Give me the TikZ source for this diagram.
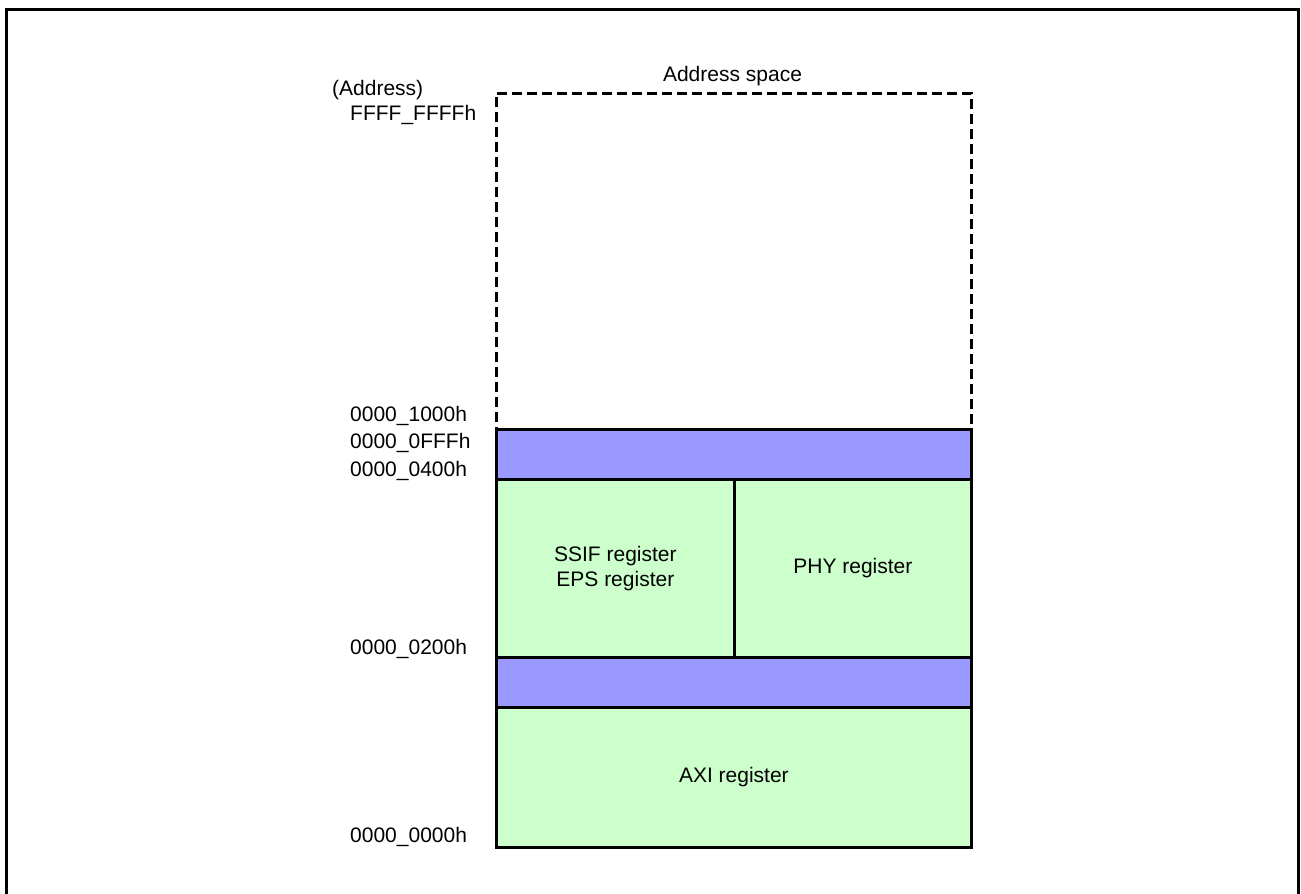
\documentclass[tikz,border=0pt]{standalone}
\usepackage{fontspec}
\setmainfont{Liberation Sans}
\definecolor{bandcol}{HTML}{9999FF}
\definecolor{regcol}{HTML}{CCFFCC}
\begin{document}
\begin{tikzpicture}[x=1pt,y=-1pt,
  font=\fontsize{21}{25}\selectfont,
  box/.style={draw, line width=2.7pt, inner sep=0pt, anchor=north west, align=center},
  spacebox/.style={draw, line width=2.7pt, dash pattern=on 10pt off 5pt, inner sep=0pt, anchor=north west},
  lbl/.style={anchor=base west, inner sep=0pt}]
\useasboundingbox (0,0) rectangle (1301,894);
% outer frame
\coordinate (fbl) at (6,896);
\coordinate (ftl) at (6,9);
\coordinate (ftr) at (1298,9);
\coordinate (fbr) at (1298,896);
\draw[line width=3pt] (fbl) -- (ftl) -- (ftr) -- (fbr);
% address space
\node[spacebox, minimum width=475pt, minimum height=336pt] (space) at (495,92) {};
\node[anchor=base, inner sep=0pt] (spacelbl) at (732.5,81) {Address space};
% blocks
\node[box, fill=bandcol, minimum width=475pt, minimum height=50pt] (band1) at (495,428) {};
\node[box, fill=regcol, minimum width=238pt, minimum height=178pt] (ssif) at (495,478) {SSIF register\\EPS register};
\node[box, fill=regcol, minimum width=237pt, minimum height=178pt] (phy) at (733,478) {PHY register};
\node[box, fill=bandcol, minimum width=475pt, minimum height=50pt] (band2) at (495,656) {};
\node[box, fill=regcol, minimum width=475pt, minimum height=140pt] (axi) at (495,706) {AXI register};
% address labels
\node[lbl] (addr) at (332,95) {(Address)};
\node[lbl] (aF) at (350,120) {FFFF\_FFFFh};
\node[lbl] (a1000) at (350,421) {0000\_1000h};
\node[lbl] (a0FFF) at (350,448) {0000\_0FFFh};
\node[lbl] (a0400) at (350,476) {0000\_0400h};
\node[lbl] (a0200) at (350,654) {0000\_0200h};
\node[lbl] (a0000) at (350,842) {0000\_0000h};
\end{tikzpicture}
\end{document}
